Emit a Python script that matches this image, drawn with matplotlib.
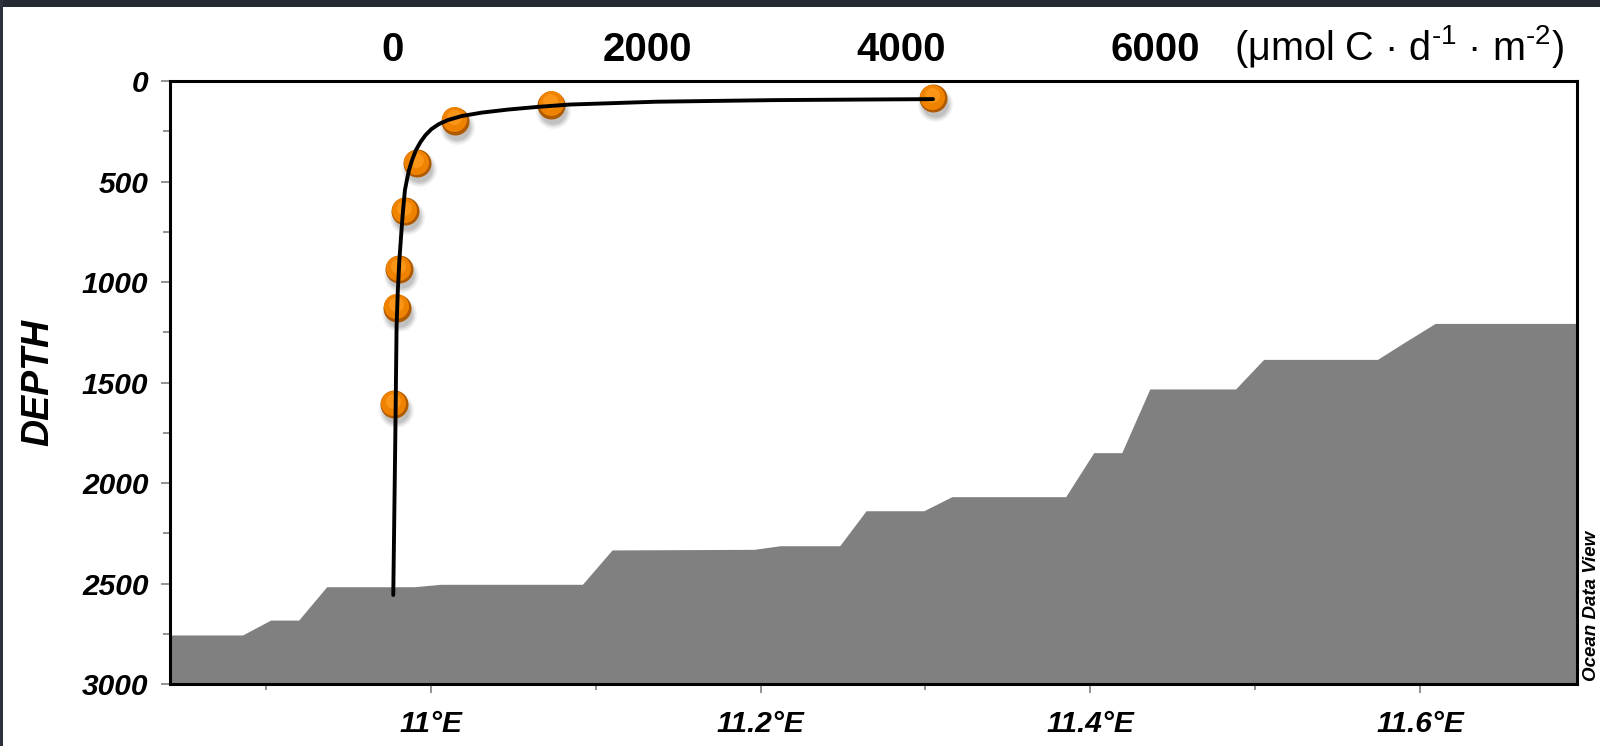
import matplotlib.pyplot as plt
from matplotlib.patches import Rectangle
from matplotlib.transforms import offset_copy

plt.rcParams['font.family'] = ['Liberation Sans', 'DejaVu Sans']
plt.rcParams['mathtext.fontset'] = 'custom'
plt.rcParams['mathtext.rm'] = 'Liberation Sans'
plt.rcParams['mathtext.it'] = 'Liberation Sans:italic'
plt.rcParams['mathtext.bf'] = 'Liberation Sans:bold'

# Bathymetry along the section (longitude, bottom depth in m)
bathy_lon = [10.842, 10.886, 10.903, 10.920, 10.937, 10.990, 11.006, 11.092,
             11.110, 11.196, 11.212, 11.248, 11.264, 11.299, 11.316, 11.385,
             11.402, 11.419, 11.436, 11.488, 11.505, 11.574, 11.591, 11.609, 11.695]
bathy_depth = [2756, 2756, 2682, 2682, 2516, 2516, 2504, 2504,
               2333, 2330, 2312, 2312, 2138, 2138, 2068, 2068,
               1849, 1849, 1532, 1532, 1385, 1385, 1297, 1206, 1206]

# Measured carbon flux (umol C / d / m2) at trap depths
flux_obs = [4250, 1246, 488, 185, 91, 47, 30, 4]
depth_obs = [85, 117, 197, 408, 647, 937, 1127, 1607]

# Fitted attenuation curve
curve_flux = [4252, 3008, 2071, 1394, 1134, 906, 701, 543, 433, 362, 303,
              256, 217, 181, 150, 126, 109, 94, 79, 67, 50, 37, 28, 18, 2]
curve_depth = [90, 95, 103, 117, 129, 142, 157, 174, 194, 214, 239,
               269, 303, 343, 393, 443, 493, 542, 642, 741, 891, 1055, 1224, 1776, 2557]

lon_ticks = [11.0, 11.2, 11.4, 11.6]
lon_labels = ['11°E', '11.2°E', '11.4°E', '11.6°E']
lon_minor = [10.9, 11.1, 11.3, 11.5]
depth_ticks = [0, 500, 1000, 1500, 2000, 2500, 3000]
depth_minor = [250, 750, 1250, 1750, 2250, 2750]
flux_ticks = [0, 2000, 4000, 6000]

fig = plt.figure(figsize=(16, 7.46), dpi=100)
fig.add_artist(Rectangle((0, 1 - 7 / 746), 1, 7 / 746, transform=fig.transFigure,
                         facecolor='#262b33', edgecolor='none'))
fig.add_artist(Rectangle((0, 0), 3 / 1600, 1, transform=fig.transFigure,
                         facecolor='#2c323b', edgecolor='none'))

ax = fig.add_axes([0.10625, 0.0831, 0.8794, 0.8083])
ax.fill_between(bathy_lon, bathy_depth, 3000, color='#808080', lw=0)
ax.set_xlim(10.842, 11.695)
ax.set_ylim(3000, 0)

lab = dict(fontsize=21.5, fontweight='bold', fontstyle='italic')
ax.set_xticks(lon_ticks, lon_labels, **lab)
ax.set_xticks(lon_minor, minor=True)
ax.set_yticks(depth_ticks, [str(d) for d in depth_ticks], **lab)
ax.set_yticks(depth_minor, minor=True)
ax.tick_params(axis='x', which='major', length=6.5, width=1.3, color='#8a8a8a', pad=12)
ax.tick_params(axis='x', which='minor', length=4.5, width=1.3, color='#8a8a8a')
ax.tick_params(axis='y', which='major', length=6.5, width=1.3, color='#8a8a8a', pad=9)
ax.tick_params(axis='y', which='minor', length=4.8, width=1.3, color='#8a8a8a')
for s in ax.spines.values():
    s.set_linewidth(2.2)
    s.set_color('black')

ax.set_ylabel('DEPTH', fontsize=27, fontweight='bold', fontstyle='italic')
ax.yaxis.set_label_coords(-0.081, 0.5)

# flux axis on top, sharing depth
ax2 = ax.twiny()
ax2.set_xlim(-1756, 9323)
ax2.set_xticks(flux_ticks, [str(f) for f in flux_ticks], fontsize=29, fontweight='bold')
ax2.tick_params(axis='x', length=0, pad=9)
for s in ax2.spines.values():
    s.set_visible(False)


def px_to_s(d):
    return (d * 72 / 100) ** 2


# soft drop shadow under the balls
shadow_tr = offset_copy(ax2.transData, fig=fig, x=2, y=-6, units='dots')
for d, a in [(35, 0.06), (32, 0.08), (29, 0.10), (26, 0.12)]:
    ax2.scatter(flux_obs, depth_obs, s=px_to_s(d), color='#404040', alpha=a,
                lw=0, transform=shadow_tr, zorder=3)

# shaded orange balls
ax2.scatter(flux_obs, depth_obs, s=px_to_s(28), color='#b05a00', lw=0, zorder=4)
mid_tr = offset_copy(ax2.transData, fig=fig, x=-0.5, y=1.3, units='dots')
ax2.scatter(flux_obs, depth_obs, s=px_to_s(25), color='#ef8300', lw=0,
            transform=mid_tr, zorder=4)
hi_tr = offset_copy(ax2.transData, fig=fig, x=-1, y=3.5, units='dots')
ax2.scatter(flux_obs, depth_obs, s=px_to_s(15), color='#ff9a1e', alpha=0.8, lw=0,
            transform=hi_tr, zorder=4)

ax2.plot(curve_flux, curve_depth, color='black', lw=2.8, solid_capstyle='round',
         solid_joinstyle='round', zorder=5)

fig.text(1234 / 1600, 1 - 60 / 746,
         r'(μmol C · d$^{\text{-1}}$ · m$^{\text{-2}}$)',
         fontsize=28.5, ha='left', va='baseline')
fig.text(1592 / 1600, 1 - 681 / 746, 'Ocean Data View', rotation=90,
         ha='center', va='bottom', fontsize=13.5, fontweight='bold', fontstyle='italic')

fig.savefig('out.png', dpi=100)
